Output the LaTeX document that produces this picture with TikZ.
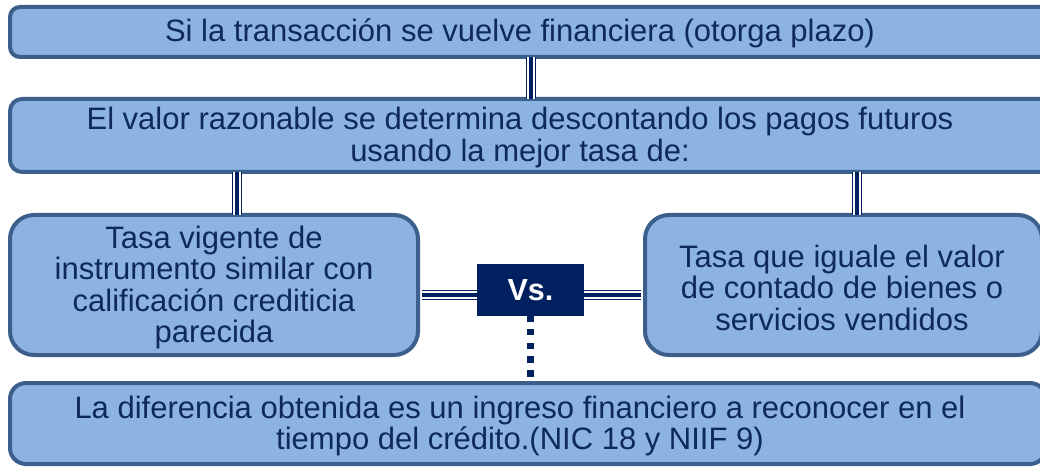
\documentclass[tikz,border=0pt]{standalone}
\usepackage{fontspec}
\setmainfont{Liberation Sans}
\definecolor{boxfill}{HTML}{8DB3E2}
\definecolor{boxline}{HTML}{3D5F8C}
\definecolor{navy}{HTML}{002060}
\definecolor{txtc}{HTML}{0E2A5C}
\begin{document}
\begin{tikzpicture}[x=1pt,y=-1pt,
  box/.style={draw=boxline, fill=boxfill, line width=4pt, inner sep=0pt},
  txt/.style={text=txtc, font=\fontsize{31}{31.5}\selectfont, align=center, inner sep=0pt},
  tline/.style={preaction={draw=navy, line width=10pt},
                preaction={draw=white, line width=7.4pt},
                draw=navy, line width=4pt},
  dotline/.style={draw=navy, line width=7pt, dash pattern=on 6.5pt off 7.2pt},
  vsbox/.style={fill=navy, draw=none, minimum width=107pt, minimum height=52pt, inner sep=0pt,
                text=white, font=\fontsize{30.5}{31}\selectfont\bfseries}
  ]
\useasboundingbox (0,0) rectangle (1040,470);
\begin{scope}
\clip (0,0) rectangle (1040,470);
% boxes
\node[box, rounded corners=10pt, minimum width=1044pt, minimum height=50pt] (b1) at (532,32) {};
\node[box, rounded corners=12pt, minimum width=1044pt, minimum height=73pt] (b2) at (532,135.5) {};
\node[box, rounded corners=24pt, minimum width=408pt, minimum height=140pt] (bl) at (214,285) {};
\node[box, rounded corners=24pt, minimum width=397pt, minimum height=140pt] (br) at (843.5,285) {};
\node[box, rounded corners=16pt, minimum width=1036pt, minimum height=81pt] (b5) at (528,423.5) {};
\node[vsbox] (vs) at (530.5,290) {Vs.};
% texts
\node[txt] (t1) at (520,33) {Si la transacción se vuelve financiera (otorga plazo)};
\node[txt] (t2) at (520,137.5) {El valor razonable se determina descontando los pagos futuros\\usando la mejor tasa de:};
\node[txt] (tl) at (214,287.5) {Tasa vigente de\\instrumento similar con\\calificación crediticia\\parecida};
\node[txt] (tr) at (842,287.5) {Tasa que iguale el valor\\de contado de bienes o\\servicios vendidos};
\node[txt] (t5) at (520,426) {La diferencia obtenida es un ingreso financiero a reconocer en el\\tiempo del crédito.(NIC 18 y NIIF 9)};
% connectors
\coordinate (c1) at (531,0);
\coordinate (c2) at (237,0);
\coordinate (c3) at (857,0);
\coordinate (c4) at (0,295);
\draw[tline] ([yshift=2pt]b1.south -| c1) -- ([yshift=-2pt]b2.north -| c1);
\draw[tline] ([yshift=2pt]b2.south -| c2) -- ([yshift=-2pt]bl.north -| c2);
\draw[tline] ([yshift=2pt]b2.south -| c3) -- ([yshift=-2pt]br.north -| c3);
\draw[tline] ([xshift=2pt]bl.east |- c4) -- (vs.west |- c4);
\draw[tline] (vs.east |- c4) -- ([xshift=-2pt]br.west |- c4);
\draw[dotline] ([yshift=1pt]vs.south) -- ([yshift=-2pt]b5.north -| vs.south);
\end{scope}
\end{tikzpicture}
\end{document}
